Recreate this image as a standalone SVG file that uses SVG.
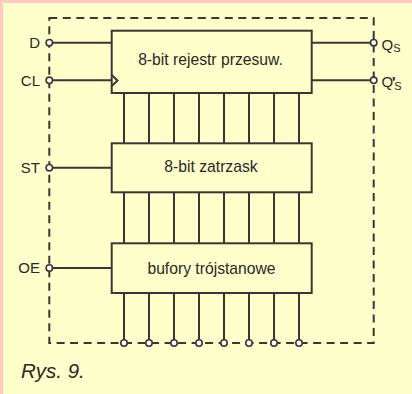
<svg xmlns="http://www.w3.org/2000/svg" width="412" height="394" viewBox="0 0 412 394">
<style>
.ln{stroke:#3a3732;stroke-width:2;fill:none}
.box{stroke:#3a3732;stroke-width:2;fill:#ffffcc}
.dash{stroke:#3a3732;stroke-width:2;fill:none;stroke-dasharray:8 5.5}
.pin{stroke:#3a3732;stroke-width:1.6;fill:#ffffff}
.t{font-family:"Liberation Sans",Arial,sans-serif;font-size:15px;fill:#2a2824}
.b{font-size:15.7px}
.c{text-anchor:middle}
.e{text-anchor:end}
</style>
<rect x="0" y="0" width="412" height="394" fill="#ffc9bc"/>
<rect x="3" y="3" width="409" height="391" fill="#ffffcc"/>
<rect class="dash" x="49.3" y="18" width="324.4" height="325"/>
<g id="connectors">
<path class="ln" d="M49.3 42.7H111.7M49.3 80.3H111.7M49.3 167.7H111.7M49.3 268H111.7M311.7 42.7H373.7M311.7 80.3H373.7"/>
<path class="ln" d="M124 93V143.3M149 93V143.3M174 93V143.3M199 93V143.3M224 93V143.3M249 93V143.3M274 93V143.3M299 93V143.3"/>
<path class="ln" d="M124 192.3V243.3M149 192.3V243.3M174 192.3V243.3M199 192.3V243.3M224 192.3V243.3M249 192.3V243.3M274 192.3V243.3M299 192.3V243.3"/>
<path class="ln" d="M124 293V343M149 293V343M174 293V343M199 293V343M224 293V343M249 293V343M274 293V343M299 293V343"/>
</g>
<g id="register">
<rect class="box" x="111.7" y="30.7" width="200" height="62.3"/>
<polyline class="ln" points="111.7,75 117.5,80.5 111.7,86" stroke-width="1.6"/>
<text class="t b c" x="210.5" y="65">8-bit rejestr przesuw.</text>
</g>
<g id="latch">
<rect class="box" x="111.7" y="143.3" width="200" height="49"/>
<text class="t b c" x="211" y="172">8-bit zatrzask</text>
</g>
<g id="buffers">
<rect class="box" x="111.7" y="243.3" width="200" height="49.7"/>
<text class="t b c" x="211.5" y="273.5">bufory trójstanowe</text>
</g>
<g id="pins">
<circle class="pin" cx="49.3" cy="42.7" r="3.2"/>
<circle class="pin" cx="49.3" cy="80.3" r="3.2"/>
<circle class="pin" cx="49.3" cy="167.7" r="3.2"/>
<circle class="pin" cx="49.3" cy="268" r="3.2"/>
<circle class="pin" cx="373.7" cy="42.7" r="3.2"/>
<circle class="pin" cx="373.7" cy="80.3" r="3.2"/>
<circle class="pin" cx="124" cy="343" r="3.2"/>
<circle class="pin" cx="149" cy="343" r="3.2"/>
<circle class="pin" cx="174" cy="343" r="3.2"/>
<circle class="pin" cx="199" cy="343" r="3.2"/>
<circle class="pin" cx="224" cy="343" r="3.2"/>
<circle class="pin" cx="249" cy="343" r="3.2"/>
<circle class="pin" cx="274" cy="343" r="3.2"/>
<circle class="pin" cx="299" cy="343" r="3.2"/>
</g>
<g id="labels">
<text class="t" x="381.5" y="49.5">Q<tspan font-size="11" dy="2.5">S</tspan></text>
<text class="t" x="381.5" y="87">Q<tspan font-size="11" dx="1" dy="2.5">S</tspan></text>
<text class="t" x="392" y="87" font-size="13" font-weight="bold">'</text>
<text class="t e" x="40" y="47.5">D</text>
<text class="t e" x="40" y="86">CL</text>
<text class="t e" x="40" y="173.3">ST</text>
<text class="t e" x="40" y="273.3">OE</text>
<text x="21" y="378" font-family="Liberation Sans, Arial, sans-serif" font-style="italic" font-size="20.5" fill="#2a2824">Rys. 9.</text>
</g>
</svg>
